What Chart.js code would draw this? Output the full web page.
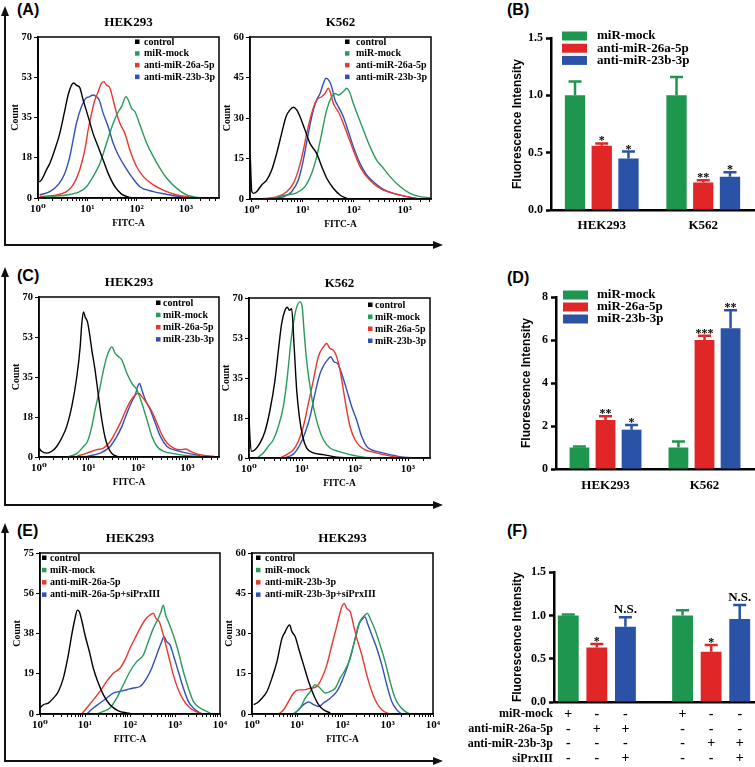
<!DOCTYPE html>
<html>
<head>
<meta charset="utf-8">
<script src="https://cdn.jsdelivr.net/npm/chart.js@4.4.1/dist/chart.umd.min.js"></script>
<style>
  body { margin: 0; background: #fff; }
  #page { position: relative; width: 755px; height: 767px; overflow: hidden; background: #fff; }
  canvas { position: absolute; }
  .plabel { position: absolute; font: bold 16px "Liberation Sans", Arial, sans-serif; line-height: 16px; }
  .vline { position: absolute; left: 4px; width: 2px; background: #111; }
  .hline { position: absolute; left: 4px; width: 430px; height: 2px; background: #111; }
  .up { position: absolute; left: 1px; width: 0; height: 0; border-left: 4px solid transparent; border-right: 4px solid transparent; border-bottom: 10px solid #111; }
  .right { position: absolute; left: 433px; width: 0; height: 0; border-top: 4px solid transparent; border-bottom: 4px solid transparent; border-left: 10px solid #111; }
</style>
</head>
<body>
<div id="page">
  <!-- left panel frames -->
  <div class="up" style="top:6px"></div><div class="vline" style="top:14px;height:232px"></div><div class="hline" style="top:244px"></div><div class="right" style="top:241px"></div>
  <div class="up" style="top:267px"></div><div class="vline" style="top:275px;height:231px"></div><div class="hline" style="top:504px"></div><div class="right" style="top:501px"></div>
  <div class="up" style="top:523px"></div><div class="vline" style="top:531px;height:231px"></div><div class="hline" style="top:760px"></div><div class="right" style="top:757px"></div>

  <div class="plabel" style="left:17px;top:2px">(A)</div>
  <div class="plabel" style="left:507px;top:2px">(B)</div>
  <div class="plabel" style="left:17px;top:268px">(C)</div>
  <div class="plabel" style="left:507px;top:270px">(D)</div>
  <div class="plabel" style="left:17px;top:523px">(E)</div>
  <div class="plabel" style="left:507px;top:523px">(F)</div>

  <canvas id="a1"></canvas><canvas id="a2"></canvas><canvas id="b"></canvas>
  <canvas id="c1"></canvas><canvas id="c2"></canvas><canvas id="d"></canvas>
  <canvas id="e1"></canvas><canvas id="e2"></canvas><canvas id="f"></canvas>
</div>
<script>
// ---------- histogram data: [FITC-A, count] ----------
const xPowLabels = ['10⁰', '10¹', '10²', '10³', '10⁴'];

// (A) HEK293
const a1Names = ['control', 'miR-mock', 'anti-miR-26a-5p', 'anti-miR-23b-3p'];
const a1YLabels = ['0', '18', '35', '53', '70'];
const a1Control = [[1,70],[1.03,7],[1.17,7.8],[1.48,12.2],[1.73,15],[2.18,20.9],[2.76,28],[3.49,38],[4.08,44.8],[4.76,49],[5.31,50],[6.02,49],[7.03,48],[8.23,42.6],[10.4,35.4],[13.1,28],[16.6,22.3],[21,16.5],[26.5,10.7],[36.3,4.9],[49.5,1.7],[73,0.3],[100,0]];
const a1Mock = [[1.26,0.5],[3.77,1.3],[7,2.8],[9.6,4.9],[13.1,9.3],[18,15],[24.5,23.8],[33.5,32.5],[42.4,37.5],[49.5,39.7],[60.7,44],[67.7,42.6],[79,39],[92.5,37.5],[117,31.7],[160,23.8],[218,18],[298,12.9],[408,8.6],[651,4.2],[1040,1.3],[1420,0.6],[1940,0]];
const a1Anti26 = [[1.08,0.6],[2.36,1.3],[3.77,2.8],[5.15,5.7],[7,12.2],[8.9,20.9],[10.4,29.6],[12.2,36.8],[14.2,42.6],[16.6,46.2],[19.4,49.9],[21.7,50.6],[24.5,49],[27.8,48.4],[33.5,42.6],[39.2,36.8],[45.8,32.5],[57.9,28],[73,20.9],[100,13.6],[137,9.3],[218,5.7],[408,2.8],[761,1],[1420,0.3]];
const a1Anti23 = [[1.08,1.3],[1.73,2.8],[2.55,5.7],[3.49,10.7],[4.41,18],[5.15,25.2],[6.02,32.5],[7.6,39.7],[9.3,43.3],[10.9,44],[13.1,44.8],[15.4,44],[17.4,42.6],[21,36.8],[26.5,31],[33.5,23.8],[42.4,18.7],[57.9,13.6],[79,9.3],[117,4.9],[218,2.8],[408,1.6],[761,0.6],[1420,0.2]];

// (A) K562
const a2YLabels = ['0', '15', '30', '45', '60'];
const a2Control = [[0.94,15.5],[1.0,3],[1.08,2.1],[1.25,2.7],[1.57,5.2],[1.97,7],[2.47,10.7],[3.09,16.9],[3.87,24.3],[4.71,30.5],[5.64,33],[6.56,34],[7.63,33],[8.87,30.5],[11.1,25.6],[13.9,20.6],[18.8,16.9],[23.6,12],[29.6,7.7],[39.9,4],[54,1.5],[72.9,0.2]];
const a2Mock = [[3.09,0.8],[4.86,1.5],[7.63,2.3],[11.1,4.6],[15,9.5],[18.8,15.7],[23.6,24.3],[29.6,33],[37,37.9],[43,39.1],[50,38.5],[62.7,39.8],[72.9,41],[82.2,39.8],[98.5,35.4],[123,30.5],[155,25.6],[209,19.4],[282,14.4],[382,11.4],[515,8.3],[809,4.6],[1270,2.1],[2000,0.9],[3140,0.5]];
const a2Anti26 = [[1.69,0.2],[3.09,0.8],[4.86,2.7],[6.56,5.8],[8.22,10.7],[10,16.9],[12,24.3],[15,31.7],[18.8,36.7],[23.6,37.9],[27.4,39.1],[31.9,41],[35.4,39.1],[39.9,35.4],[50,32.3],[62.7,28],[78.6,23],[98.5,18.1],[133,12],[180,8.3],[262,5.2],[382,3.3],[600,2.1],[1094,0.9],[1720,0.2]];
const a2Anti23 = [[2.29,0.2],[4.18,0.8],[6.09,2.7],[8.22,7],[10.3,14.4],[12.9,24.3],[16.2,33],[18.8,36.7],[21.9,39.1],[25.4,42.8],[28.7,44.7],[33.3,43.7],[37,41.6],[43,36.7],[50,34.2],[62.7,30.5],[78.6,25],[98.5,19.4],[133,13.2],[180,8.9],[262,5.8],[382,3.6],[600,2.1],[1094,0.9],[1720,0.2]];

// (C) HEK293
const c1Names = ['control', 'miR-mock', 'miR-26a-5p', 'miR-23b-3p'];
const c1YLabels = ['0', '18', '35', '53', '70'];
const c1Control = [[1,3.9],[1.13,2.5],[1.43,1.7],[1.81,2.5],[2.28,4.6],[2.88,8.3],[3.64,13.4],[4.59,22],[5.8,35],[6.78,48],[7.33,58.4],[7.92,63.5],[8.56,61.3],[9.55,59.1],[10.5,54],[11.7,46.8],[13.6,38],[16,26.4],[18.6,16.3],[21.8,8.3],[25.4,3.9],[29.7,1.5],[37.5,0.3],[51.2,0]];
const c1Mock = [[3.64,0],[5.8,1.5],[7.92,4.6],[9.55,6.8],[11.7,13.4],[13.6,20.6],[16.7,29.3],[20.1,38],[23.5,43.9],[27.5,47.5],[29.7,48.2],[34.7,45.3],[40.5,43.9],[47.4,42.4],[59.8,36.6],[75.5,32.2],[95.5,29.3],[120,23.5],[152,16.3],[192,9],[243,4.6],[331,2.5],[528,1.5],[984,0.6],[1835,0.2]];
const c1Mir26 = [[5.8,0.3],[9.25,1.7],[14.8,3.2],[20.1,3.9],[27.5,6.8],[34.7,10.5],[43.8,14.8],[55.4,19.9],[69.9,24.3],[88.3,27.2],[103,27.9],[120,26.4],[152,23.5],[192,19.9],[243,14.8],[306,9.7],[387,6.1],[528,3.9],[721,3.2],[910,3.5],[1150,2.5],[1835,1],[3420,0.3]];
const c1Mir23 = [[9.25,0.3],[17.2,1.7],[27.5,4.6],[37.5,9],[47.4,13.4],[59.8,19.2],[75.5,24.3],[88.3,27.2],[98.5,30.8],[108,32.2],[120,29.3],[141,25],[178,20.6],[224,14.8],[284,9],[387,4.6],[617,2.8],[984,1.7],[1835,0.6]];

// (C) K562
const c2YLabels = ['0', '18', '35', '53', '70'];
const c2Control = [[1,19],[1.04,9.4],[1.12,2.9],[1.3,3.6],[1.61,6.5],[2,11.6],[2.49,21],[3.09,34],[3.58,47],[4.13,58.8],[4.78,64.6],[5.29,66],[5.77,64.6],[6.38,65.3],[7.06,50],[7.93,29.8],[8.91,18.1],[10.3,9.4],[12.2,4.4],[16.4,2.2],[25.3,1.5],[45.1,0.4],[80.5,0]];
const c2Mock = [[1.4,0],[1.86,2.2],[2.31,5.1],[2.88,8],[3.58,13.8],[4.44,22.5],[5.29,35.6],[6.11,50],[6.86,58.8],[7.93,66],[9.16,68.3],[10.1,66],[10.9,55.9],[12.2,42.8],[14.2,31.2],[16.4,22.5],[20.3,13.8],[25.3,8],[33.8,4.4],[48.5,2.9],[80.5,1.5],[144,0.4],[343,0]];
const c2Mir26 = [[3.85,0],[5.14,1.5],[6.86,3.6],[8.53,7.3],[10.6,13.8],[13.2,23.9],[16.4,34.1],[20.3,44.3],[25.3,48.6],[29.2,50.1],[33.8,47.9],[39,47.2],[45.1,44.3],[52.1,38.5],[60.3,29.8],[69.7,21],[80.5,13.8],[100,8],[124,5.1],[155,3.6],[192,2.9],[343,1.5],[611,0.4],[1090,0]];
const c2Mir23 = [[4.44,0],[6.86,1.7],[9.16,5.8],[11.4,10.9],[14.2,18.1],[17.6,28.3],[21.9,37],[26,40.7],[30,42.8],[34.7,44.3],[40.2,42.1],[46.4,41.4],[56,37],[69.7,29.8],[86.5,22.5],[107,16.7],[134,9.4],[166,5.1],[206,3.6],[256,2.9],[457,1.5],[816,0.4],[1460,0]];

// (E) HEK293, anti-miR-26a-5p
const e1Names = ['control', 'miR-mock', 'anti-miR-26a-5p', 'anti-miR-26a-5p+siPrxIII'];
const e1YLabels = ['0', '19', '38', '56', '75'];
const e1Control = [[1,2.8],[1.19,4.3],[1.53,5.1],[1.98,7.4],[2.56,10.5],[3.3,16.7],[4.26,27.5],[5.06,36.8],[6,44.5],[6.76,48.4],[7.48,47.6],[8.43,43.8],[10,36.8],[12.5,29.1],[15.3,21.3],[19.8,14.4],[25.5,9],[35.9,4.3],[55,1.5],[84.3,0.5],[119,0]];
const e1Mock = [[18.2,0],[25.5,1.2],[35.9,2.8],[50.6,7.4],[71.1,13.6],[100,19.8],[141,24.4],[198,27.5],[255,33.7],[330,39.9],[426,44.5],[488,47.6],[550,50.7],[620,46.1],[711,43],[918,36.8],[1186,29.1],[1531,19.8],[1977,12.1],[2554,5.9],[3593,2.8],[5054,1.2],[6531,0]];
const e1Anti26 = [[8.43,0],[10.9,2.8],[15.3,6.6],[21.5,10.5],[30.3,15.2],[42.6,19],[59.9,21.3],[77.4,25.2],[100,30.6],[129,35.3],[167,39.9],[215,43.8],[278,46.1],[330,46.9],[378,44.5],[448,43],[550,36.8],[711,27.5],[918,18.2],[1186,11.3],[1531,6.6],[2154,2.8],[3030,1],[3915,0]];
const e1Anti26Si = [[10.9,0],[15.3,2.8],[21.5,5.1],[30.3,7.4],[42.6,9.7],[59.9,10.5],[84.3,11.3],[119,12.1],[167,12.8],[235,16.7],[303,21.3],[391,27.5],[505,33.7],[570,36],[653,33.7],[774,32.2],[918,27.5],[1186,19.8],[1531,12.1],[1977,5.9],[2554,2.8],[3593,0.5],[4266,0]];

// (E) HEK293, anti-miR-23b-3p
const e2Names = ['control', 'miR-mock', 'anti-miR-23b-3p', 'anti-miR-23b-3p+siPrxIII'];
const e2YLabels = ['0', '15', '30', '45', '60'];
const e2Control = [[1.09,3.5],[1.29,4.1],[1.66,5.9],[2.14,8.4],[2.76,13.4],[3.56,19.5],[4.59,28.2],[5.44,30.7],[6.12,32.5],[6.77,33.2],[7.63,30.7],[9.03,28.8],[10.7,24.5],[13.8,18.3],[17.8,12.1],[22.9,7.2],[29.6,3.5],[38.1,1.6],[53.5,0.4]];
const e2Mock = [[8.3,0],[11.6,2.2],[15,5.9],[19.4,8.4],[24.9,10.9],[32.2,9.6],[41.5,7.8],[53.5,8.4],[68.9,9.6],[88.8,13.4],[115,16.5],[148,20.8],[190,28.2],[225,33.2],[267,35.6],[316,36.9],[356,37.5],[408,35.6],[526,31.3],[678,25.7],[873,19.5],[1125,12.1],[1452,5.9],[1871,2.8],[2412,1],[3110,0]];
const e2Anti23 = [[3.87,0],[5,1.6],[6.44,4.7],[8.3,7.8],[10.7,9],[13.8,9],[19.4,9.6],[27.2,10.3],[35,13.4],[45.1,18.3],[58.2,25.7],[72.5,31.9],[85.9,36.9],[96.7,40],[109,41.2],[125,39.3],[148,38.1],[175,33.2],[207,28.2],[267,22],[344,14.6],[444,8.4],[572,4.1],[738,1.6],[951,0.4],[1225,0]];
const e2Anti23Si = [[8.3,0],[10.7,1.6],[13.8,3.5],[17.8,4.5],[22.9,3.5],[29.6,2.8],[38.1,4.1],[53.5,5.9],[75,8.4],[96.7,12.1],[125,17.1],[161,23.3],[200,29.4],[237,33.8],[281,35.6],[316,36.2],[356,33.8],[444,29.4],[572,24.5],[738,18.3],[951,10.9],[1225,4.7],[1580,1.6],[2037,0]];

// ---------- bar data ----------
const cellLines = ['HEK293', 'K562'];

// (B)
const bNames = ['miR-mock', 'anti-miR-26a-5p', 'anti-miR-23b-3p'];
const bMock = [1.0, 1.0],   bMockErr = [0.12, 0.16], bMockMarks = ['', ''];
const bAnti26 = [0.56, 0.24], bAnti26Err = [0.02, 0.02], bAnti26Marks = ['*', '**'];
const bAnti23 = [0.45, 0.29], bAnti23Err = [0.06, 0.04], bAnti23Marks = ['*', '*'];
const bYLabels = ['0.0', '0.5', '1.0', '1.5'];

// (D)
const dNames = ['miR-mock', 'miR-26a-5p', 'miR-23b-3p'];
const dMock = [1.0, 1.0],   dMockErr = [0.05, 0.28], dMockMarks = ['', ''];
const dMir26 = [2.28, 6.0], dMir26Err = [0.17, 0.2], dMir26Marks = ['**', '***'];
const dMir23 = [1.83, 6.55], dMir23Err = [0.22, 0.83], dMir23Marks = ['*', '**'];
const dYLabels = ['0', '2', '4', '6', '8'];

// (F)
const fValues = [1.0, 0.63, 0.87, null, 1.0, 0.58, 0.96];
const fErr    = [0.01, 0.04, 0.11, null, 0.06, 0.08, 0.16];
const fMarks  = ['', '*', 'N.S.', '', '', '*', 'N.S.'];
const fRowNames = ['miR-mock', 'anti-miR-26a-5p', 'anti-miR-23b-3p', 'siPrxIII'];
const fMock    = ['+', '-', '-', '', '+', '-', '-'];
const fAnti26  = ['-', '+', '+', '', '-', '-', '-'];
const fAnti23  = ['-', '-', '-', '', '-', '+', '+'];
const fSiPrx   = ['-', '-', '+', '', '-', '-', '+'];
const fYLabels = ['0.0', '0.5', '1.0', '1.5'];

const histColors = ['#000000', '#2a9a5a', '#e8372c', '#3150b6'];
const barColors = ['#1e9650', '#e02626', '#2a53a8'];
const SERIF = '"Liberation Serif", "DejaVu Serif", serif';
const SANS = '"Liberation Sans", Arial, sans-serif';

Chart.defaults.animation = false;
Chart.defaults.font.family = SERIF;
Chart.defaults.font.weight = 'bold';
Chart.defaults.color = '#000';
Chart.defaults.plugins.legend.display = false;
Chart.defaults.plugins.tooltip.enabled = false;

// ---------- plugins ----------
const boxOutline = {
  id: 'boxOutline',
  afterDraw(chart) {
    const { ctx, chartArea: a } = chart;
    ctx.save();
    ctx.strokeStyle = '#000';
    ctx.lineWidth = 1.5;
    ctx.strokeRect(a.left, a.top, a.right - a.left, a.bottom - a.top);
    ctx.restore();
  }
};

const panelTitle = {
  id: 'panelTitle',
  afterDraw(chart, args, o) {
    const { ctx, chartArea: a } = chart;
    ctx.save();
    ctx.font = 'bold 13px ' + SERIF;
    ctx.textAlign = 'center';
    ctx.textBaseline = 'middle';
    ctx.fillStyle = '#000';
    ctx.fillText(o.text, (a.left + a.right) / 2, a.top - o.dy);
    ctx.restore();
  }
};

const histLegend = {
  id: 'histLegend',
  afterDraw(chart, args, o) {
    const { ctx, chartArea: a } = chart;
    ctx.save();
    ctx.beginPath();
    ctx.rect(a.left, a.top, a.right - a.left, a.bottom - a.top);
    ctx.clip();
    ctx.font = 'bold 10px ' + SERIF;
    ctx.textBaseline = 'middle';
    chart.data.datasets.forEach((ds, i) => {
      const y = a.top + o.dy + i * o.step;
      ctx.fillStyle = ds.borderColor;
      ctx.fillRect(a.left + o.mx, y - 2.5, 4.5, 4.5);
      ctx.fillStyle = '#000';
      ctx.fillText(ds.label, a.left + o.tx, y);
    });
    ctx.restore();
  }
};

const barLegend = {
  id: 'barLegend',
  afterDraw(chart, args, o) {
    const { ctx, chartArea: a } = chart;
    ctx.save();
    ctx.font = 'bold 13px ' + SERIF;
    ctx.textBaseline = 'middle';
    chart.data.datasets.forEach((ds, i) => {
      const y = a.top + o.dy + i * o.step;
      ctx.fillStyle = ds.backgroundColor;
      ctx.fillRect(a.left + o.sx, y - 4.5, 25, 9);
      ctx.fillStyle = '#000';
      ctx.fillText(ds.label, a.left + o.tx, y);
    });
    ctx.restore();
  }
};

const errorBars = {
  id: 'errorBars',
  afterDatasetsDraw(chart, args, o) {
    const { ctx } = chart;
    const y = chart.scales.y;
    ctx.save();
    chart.data.datasets.forEach((ds, di) => {
      chart.getDatasetMeta(di).data.forEach((bar, i) => {
        const v = ds.data[i];
        if (v == null) return;
        const top = y.getPixelForValue(v + ds.errors[i]);
        const col = Array.isArray(ds.backgroundColor) ? ds.backgroundColor[i] : ds.backgroundColor;
        ctx.strokeStyle = col;
        ctx.lineWidth = 2.5;
        ctx.beginPath();
        ctx.moveTo(bar.x, bar.y);
        ctx.lineTo(bar.x, top);
        ctx.moveTo(bar.x - 6.5, top);
        ctx.lineTo(bar.x + 6.5, top);
        ctx.stroke();
        const m = ds.marks[i];
        if (m) {
          ctx.fillStyle = '#000';
          ctx.textAlign = 'center';
          ctx.textBaseline = 'alphabetic';
          if (m === 'N.S.') {
            ctx.font = 'bold 13px ' + SERIF;
            ctx.fillText(m, bar.x, top - 4);
          } else {
            ctx.font = 'bold 12px ' + SERIF;
            ctx.fillText(m, bar.x, top + 1);
          }
        }
      });
    });
    ctx.restore();
  }
};

const rowLabels = {
  id: 'rowLabels',
  afterDraw(chart, args, o) {
    const { ctx, chartArea: a } = chart;
    ctx.save();
    ctx.font = 'bold 12px ' + SERIF;
    ctx.textAlign = 'right';
    ctx.textBaseline = 'middle';
    ctx.fillStyle = '#000';
    o.rows.forEach((t, i) => ctx.fillText(t, a.left - 1, a.bottom + o.pad + o.lh / 2 + i * o.lh));
    ctx.restore();
  }
};

// ---------- helpers ----------
function logTicks(min, max) {
  const t = [];
  for (let k = -1; k <= 4; k++) {
    for (let d = 1; d <= 9; d++) {
      const v = d * Math.pow(10, k);
      if (v >= min * 0.999 && v <= max * 1.001) t.push({ value: v, major: d === 1 });
    }
  }
  return t;
}

function placeCanvas(id, box, pad) {
  const [L, T, R, B] = box;
  const cv = document.getElementById(id);
  cv.width = R - L + pad.left + pad.right;
  cv.height = B - T + pad.top + pad.bottom;
  cv.style.left = (L - pad.left) + 'px';
  cv.style.top = (T - pad.top) + 'px';
  return cv;
}

function histChart(id, box, xMin, xMax, yLabels, title, names, series, leg) {
  const pad = { left: 36, top: 30, right: 12, bottom: 32 };
  const cv = placeCanvas(id, box, pad);
  const yMax = Number(yLabels[yLabels.length - 1]);
  new Chart(cv, {
    type: 'line',
    data: {
      datasets: series.map((s, i) => ({
        label: names[i], data: s, borderColor: histColors[i], borderWidth: 1.4,
        pointRadius: 0, cubicInterpolationMode: 'monotone'
      }))
    },
    options: {
      responsive: false,
      layout: { padding: { top: pad.top, right: pad.right, left: 0, bottom: 0 } },
      scales: {
        x: {
          type: 'logarithmic', min: xMin, max: xMax,
          afterBuildTicks: s => { s.ticks = logTicks(xMin, xMax); },
          afterFit: s => { s.height = pad.bottom; },
          ticks: {
            autoSkip: false, maxRotation: 0, padding: 2, font: { size: 11 },
            callback: v => {
              const e = Math.round(Math.log10(v));
              return Math.abs(Math.log10(v) - e) < 1e-6 ? xPowLabels[e] : '';
            }
          },
          grid: { drawOnChartArea: false, tickLength: 3, color: '#000' },
          border: { color: '#000', width: 1.5 },
          title: { display: true, text: 'FITC-A', font: { size: 9.5 }, padding: { top: 0, bottom: 1 } }
        },
        y: {
          min: 0, max: yMax,
          afterBuildTicks: s => { s.ticks = yLabels.map((t, i) => ({ value: yMax * i / (yLabels.length - 1) })); },
          afterFit: s => { s.width = pad.left; },
          ticks: { callback: (v, i) => yLabels[i], font: { size: 10.5 }, padding: 2 },
          grid: { drawOnChartArea: false, tickLength: 4, color: '#000' },
          border: { color: '#000', width: 1.5 },
          title: { display: true, text: 'Count', font: { size: 10 }, padding: { top: 7 } }
        }
      },
      plugins: {
        panelTitle: { text: title, dy: 14 },
        histLegend: leg
      }
    },
    plugins: [boxOutline, panelTitle, histLegend]
  });
}

function yAxisBars(yLabels, step, titlePad) {
  return {
    min: 0, max: Number(yLabels[yLabels.length - 1]),
    afterBuildTicks: s => { s.ticks = yLabels.map((t, i) => ({ value: i * step })); },
    ticks: { callback: (v, i) => yLabels[i], font: { size: 12 }, padding: 3 },
    grid: { drawOnChartArea: false, tickLength: 5, tickWidth: 2.5, color: '#000' },
    border: { color: '#000', width: 2.5 },
    title: { display: true, text: 'Fluorescence Intensity', font: { family: SANS, size: 12, weight: 'bold' }, padding: { top: titlePad } }
  };
}

function groupedBars(id, box, pad, names, values, errs, marks, yLabels, step, titlePad, labelPad, leg) {
  const cv = placeCanvas(id, box, pad);
  new Chart(cv, {
    type: 'bar',
    data: {
      labels: cellLines,
      datasets: names.map((n, i) => ({
        label: n, data: values[i], errors: errs[i], marks: marks[i],
        backgroundColor: barColors[i], borderWidth: 0,
        categoryPercentage: 0.79, barPercentage: 0.76
      }))
    },
    options: {
      responsive: false,
      layout: { padding: { top: pad.top, right: pad.right, left: 0, bottom: 0 } },
      scales: {
        x: {
          afterFit: s => { s.height = pad.bottom; },
          ticks: { font: { size: 13 }, padding: labelPad },
          grid: { display: false, drawTicks: false },
          border: { color: '#000', width: 2.5 }
        },
        y: Object.assign(yAxisBars(yLabels, step, titlePad), { afterFit: s => { s.width = pad.left; } })
      },
      plugins: { barLegend: leg }
    },
    plugins: [errorBars, barLegend]
  });
}

// ---------- histograms ----------
histChart('a1', [38, 37, 219, 198], 1, 4680, a1YLabels, 'HEK293', a1Names,
  [a1Control, a1Mock, a1Anti26, a1Anti23], { mx: 97, tx: 106, dy: 5, step: 11.7 });
histChart('a2', [250, 37, 431, 199], 0.927, 3280, a2YLabels, 'K562', a1Names,
  [a2Control, a2Mock, a2Anti26, a2Anti23], { mx: 95, tx: 106, dy: 5, step: 11.7 });
histChart('c1', [39, 297, 219, 457], 1, 4350, c1YLabels, 'HEK293', c1Names,
  [c1Control, c1Mock, c1Mir26, c1Mir23], { mx: 117, tx: 124, dy: 6, step: 12.2 });
histChart('c2', [249, 298, 430, 458], 1, 2600, c2YLabels, 'K562', c1Names,
  [c2Control, c2Mock, c2Mir26, c2Mir23], { mx: 119, tx: 126, dy: 7, step: 12 });
histChart('e1', [40, 553, 220, 714], 1, 10000, e1YLabels, 'HEK293', e1Names,
  [e1Control, e1Mock, e1Anti26, e1Anti26Si], { mx: 2, tx: 10, dy: 5, step: 12.3 });
histChart('e2', [252, 553, 433, 714], 1, 10000, e2YLabels, 'HEK293', e2Names,
  [e2Control, e2Mock, e2Anti23, e2Anti23Si], { mx: 4, tx: 13, dy: 5, step: 12.3 });

// ---------- bar charts ----------
groupedBars('b', [551, 38, 754, 210], { left: 43, top: 18, right: 1, bottom: 30 }, bNames,
  [bMock, bAnti26, bAnti23], [bMockErr, bAnti26Err, bAnti23Err], [bMockMarks, bAnti26Marks, bAnti23Marks],
  bYLabels, 0.5, 2.8, 8, { sx: 11, tx: 46, dy: -2, step: 12.2 });
groupedBars('d', [556, 297, 754, 469], { left: 43, top: 18, right: 1, bottom: 30 }, dNames,
  [dMock, dMir26, dMir23], [dMockErr, dMir26Err, dMir23Err], [dMockMarks, dMir26Marks, dMir23Marks],
  dYLabels, 2, 6.8, 9, { sx: 7, tx: 41, dy: -2, step: 12 });

// (F) single series, one colour per bar, sign table as multi-line tick labels
(function () {
  const pad = { left: 94, top: 10, right: 1, bottom: 65 };
  const cv = placeCanvas('f', [554, 572, 754, 702], pad);
  const labels = fValues.map((v, i) => [fMock[i], fAnti26[i], fAnti23[i], fSiPrx[i]]);
  const colors = [barColors[0], barColors[1], barColors[2], '#fff', barColors[0], barColors[1], barColors[2]];
  new Chart(cv, {
    type: 'bar',
    data: {
      labels: labels,
      datasets: [{ data: fValues, errors: fErr, marks: fMarks, backgroundColor: colors, borderWidth: 0,
        categoryPercentage: 1, barPercentage: 0.73 }]
    },
    options: {
      responsive: false,
      layout: { padding: { top: pad.top, right: pad.right, left: 0, bottom: 0 } },
      scales: {
        x: {
          afterFit: s => { s.height = pad.bottom; },
          ticks: { font: { size: 14, lineHeight: 1.05 }, padding: 5, autoSkip: false, maxRotation: 0 },
          grid: { display: false, drawTicks: false },
          border: { color: '#000', width: 2.5 }
        },
        y: Object.assign(yAxisBars(fYLabels, 0.5, 50.8), { afterFit: s => { s.width = pad.left; } })
      },
      plugins: { rowLabels: { rows: fRowNames, pad: 5, lh: 14.7 } }
    },
    plugins: [errorBars, rowLabels]
  });
})();
</script>
</body>
</html>
